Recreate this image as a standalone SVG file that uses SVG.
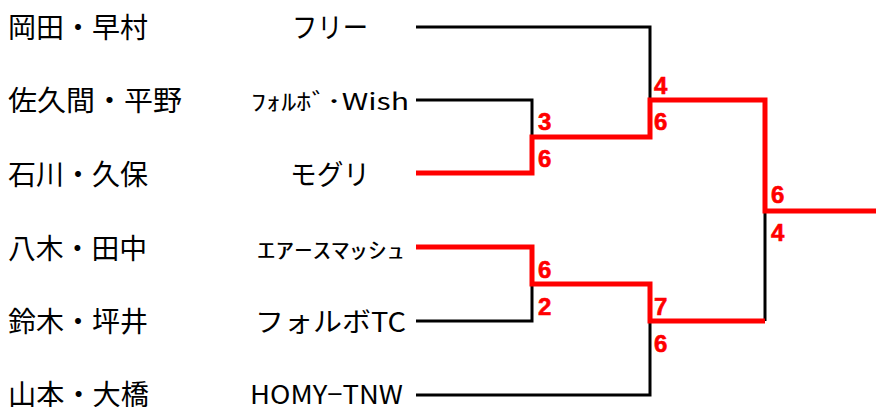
<svg xmlns="http://www.w3.org/2000/svg" width="876" height="407" viewBox="0 0 876 407">
<style>
.pl{font-family:"Noto Sans CJK JP","Liberation Sans",sans-serif;font-size:28px;fill:#000}
.tm{font-family:"Noto Sans CJK JP","Liberation Sans",sans-serif;fill:#000}
.sc{font-family:"Liberation Sans",Arial,sans-serif;font-weight:bold;font-size:24px;fill:#ff0000;stroke:#ff0000;stroke-width:0.6}
.bk{fill:none;stroke:#000;stroke-width:3}
.rd{fill:none;stroke:#ff0000;stroke-width:5}
</style>
<rect width="876" height="407" fill="#fff"/>
<g id="connectors">
<path class="bk" d="M416,27 H650 V100"/>
<path class="bk" d="M416,100 H532 V137"/>
<path class="bk" d="M532,284 V321 H416"/>
<path class="bk" d="M416,395 H650 V321"/>
<path class="bk" d="M765,211 V321"/>
<path class="rd" d="M416,173 H532 V137 H650 V100 H765 V211 H876"/>
<path class="rd" d="M416,247 H532 V284 H650 V321 H765"/>
</g>
<g id="team1">
<text class="pl" x="8" y="38" textLength="140" lengthAdjust="spacingAndGlyphs">岡田・早村</text>
<text class="tm" x="292" y="38" font-size="28" textLength="76" lengthAdjust="spacingAndGlyphs">フリー</text>
</g>
<g id="team2">
<text class="pl" x="8" y="111" textLength="174" lengthAdjust="spacingAndGlyphs">佐久間・平野</text>
<text class="tm" x="251" y="110" font-size="23" textLength="158" lengthAdjust="spacingAndGlyphs">ﾌｫﾙﾎﾞ･Wish</text>
</g>
<g id="team3">
<text class="pl" x="8" y="185" textLength="140" lengthAdjust="spacingAndGlyphs">石川・久保</text>
<text class="tm" x="290" y="185" font-size="28" textLength="80" lengthAdjust="spacingAndGlyphs">モグリ</text>
</g>
<g id="team4">
<text class="pl" x="8" y="259" textLength="139" lengthAdjust="spacingAndGlyphs">八木・田中</text>
<text class="tm" x="257" y="258" font-size="22" textLength="148" lengthAdjust="spacingAndGlyphs">ｴｱｰｽﾏｯｼｭ</text>
</g>
<g id="team5">
<text class="pl" x="8" y="332" textLength="140" lengthAdjust="spacingAndGlyphs">鈴木・坪井</text>
<text class="tm" x="255" y="332" font-size="27" textLength="151" lengthAdjust="spacingAndGlyphs">フォルボTC</text>
</g>
<g id="team6">
<text class="pl" x="8" y="405" textLength="141" lengthAdjust="spacingAndGlyphs">山本・大橋</text>
<text class="tm" x="250" y="404" font-size="26" textLength="153" lengthAdjust="spacingAndGlyphs">HOMY−TNW</text>
</g>
<g id="scores">
<text class="sc" x="538" y="130">3</text>
<text class="sc" x="538" y="167">6</text>
<text class="sc" x="654" y="94">4</text>
<text class="sc" x="654" y="130">6</text>
<text class="sc" x="771" y="203">6</text>
<text class="sc" x="771" y="241">4</text>
<text class="sc" x="538" y="278">6</text>
<text class="sc" x="538" y="315">2</text>
<text class="sc" x="654" y="315">7</text>
<text class="sc" x="654" y="352">6</text>
</g>
</svg>
